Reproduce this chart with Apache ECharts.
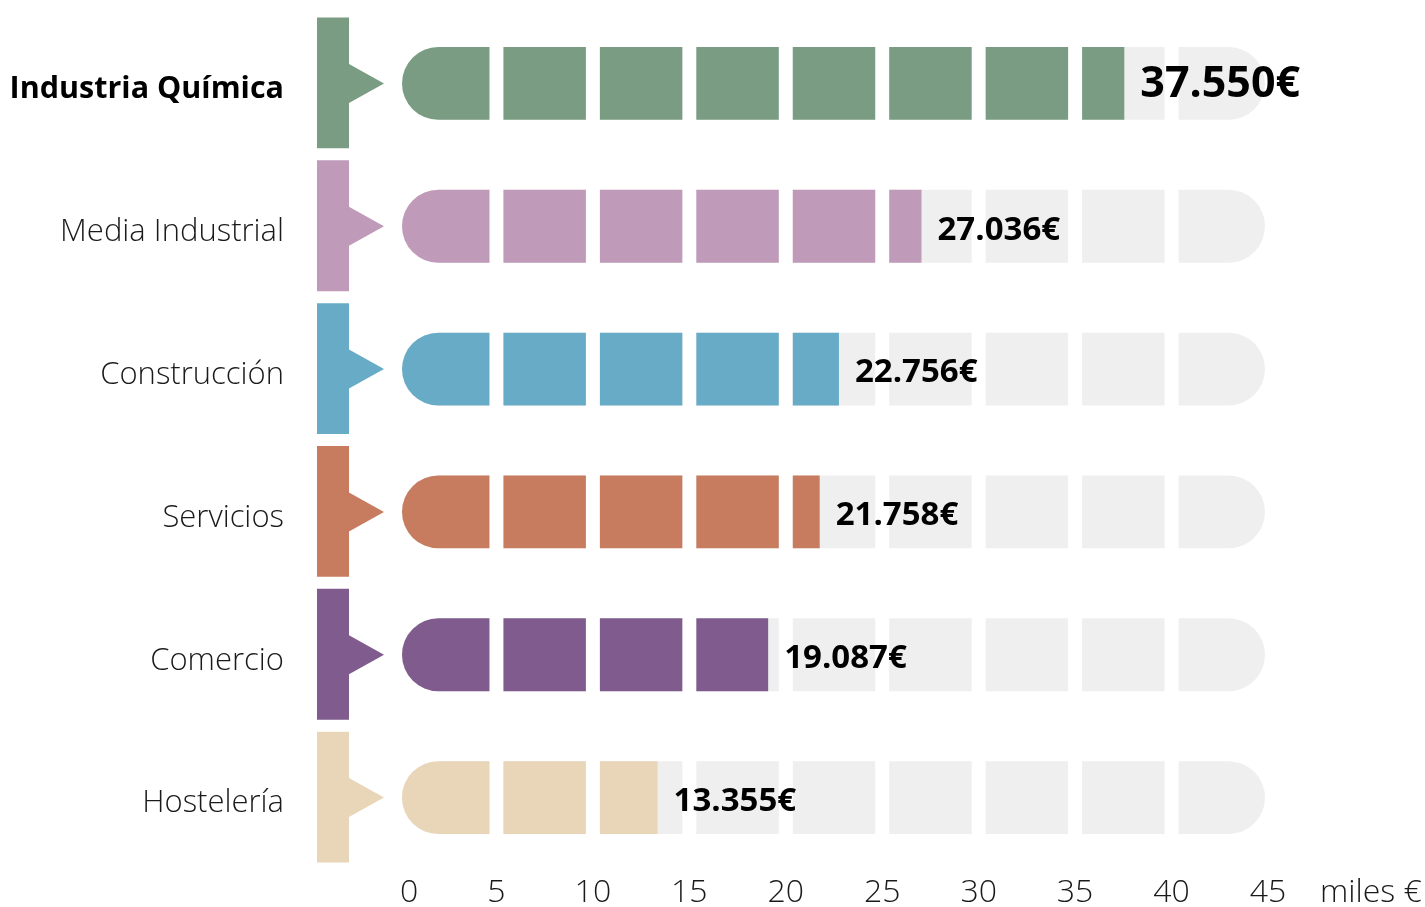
<!DOCTYPE html>
<html>
<head>
<meta charset="utf-8">
<script src="https://cdn.jsdelivr.net/npm/echarts@6/dist/echarts.min.js"></script>
<style>
html,body{margin:0;padding:0;background:#fff;}
#chart{width:1425px;height:907px;}
</style>
</head>
<body>
<div id="chart"></div>
<script>
const categories = ['Industria Química', 'Media Industrial', 'Construcción', 'Servicios', 'Comercio', 'Hostelería'];
const values = [37.550, 27.036, 22.756, 21.758, 19.087, 13.355]; // miles €
const colors = ['#7a9c82', '#bf9bb9', '#68abc7', '#c87c5f', '#805c8e', '#e9d6b8'];
const tickValues = [0, 5, 10, 15, 20, 25, 30, 35, 40, 45];
const axisUnit = 'miles €';

const FONT = '"Open Sans", "Noto Sans", sans-serif';
const TRACK = '#efefef';
const STEP = 5;
const AXIS_MAX = 45;

function fmt(v) {
  return v.toFixed(3) + '€';
}

const chart = echarts.init(document.getElementById('chart'), null, {renderer: 'canvas'});

function renderItem(params, api) {
  const v = api.value(0);
  const cat = api.value(1);
  const i = params.dataIndex;
  const color = colors[i];
  const p0 = api.coord([0, cat]);
  const cy = p0[1];
  const band = api.size([0, 1])[1];
  const barH = band * 0.51;
  const halfH = barH / 2;
  const top = cy - halfH;
  const children = [];

  // left marker (rect + arrow)
  const mx0 = p0[0] - 83, mx1 = p0[0] - 51, tip = p0[0] - 16;
  const mTop = cy - band / 2 + 5.5, mBot = cy + band / 2 - 6.5;
  children.push({
    type: 'polygon',
    shape: {points: [[mx0, mTop], [mx1, mTop], [mx1, cy - 19.5], [tip, cy], [mx1, cy + 19.5], [mx1, mBot], [mx0, mBot]]},
    style: {fill: color}
  });

  const vx = api.coord([v, cat])[0];
  const nSeg = AXIS_MAX / STEP;
  for (let k = 0; k < nSeg; k++) {
    let x1 = api.coord([k * STEP, cat])[0] + (k === 0 ? 2 : 7);
    let x2 = api.coord([(k + 1) * STEP, cat])[0] - (k === nSeg - 1 ? 3 : 7);
    let r = [0, 0, 0, 0];
    if (k === 0) r = [halfH, 0, 0, halfH];
    if (k === nSeg - 1) r = [0, halfH, halfH, 0];
    children.push({
      type: 'rect',
      shape: {x: x1, y: top, width: x2 - x1, height: barH, r: r},
      style: {fill: TRACK}
    });
    if (vx > x1) {
      const xe = Math.min(vx, x2);
      let rr = r.slice();
      if (xe < x2) { rr[1] = 0; rr[2] = 0; }
      children.push({
        type: 'rect',
        shape: {x: x1, y: top, width: xe - x1, height: barH, r: rr},
        style: {fill: color}
      });
    }
  }

  children.push({
    type: 'text',
    style: {
      x: vx + 16,
      y: cy + (i === 0 ? 1 : 4),
      text: fmt(v),
      fill: '#000',
      font: 'bold ' + (i === 0 ? 43 : 33) + 'px ' + FONT,
      verticalAlign: 'middle',
      align: 'left'
    },
    z2: 10
  });

  return {type: 'group', children: children};
}

const option = {
  backgroundColor: '#fff',
  animation: false,
  grid: {left: 400, right: 157, top: 12, bottom: 38, containLabel: false, outerBoundsMode: 'none'},
  xAxis: {
    type: 'value',
    min: 0,
    max: AXIS_MAX,
    interval: STEP,
    axisLine: {show: false},
    axisTick: {show: false},
    splitLine: {show: false},
    axisLabel: {
      margin: 8,
      fontSize: 32,
      fontFamily: FONT,
      fontWeight: 300,
      color: '#1a1a1a',
      alignMinLabel: 'left',
      formatter: function (val) { return tickValues.indexOf(val) >= 0 ? String(val) : ''; }
    },
    name: axisUnit,
    nameLocation: 'end',
    nameGap: 52,
    nameTextStyle: {
      fontSize: 32,
      fontFamily: FONT,
      fontWeight: 300,
      color: '#1a1a1a',
      verticalAlign: 'top',
      padding: [8, 0, 0, 0]
    }
  },
  yAxis: {
    type: 'category',
    inverse: true,
    data: categories,
    axisLine: {show: false},
    axisTick: {show: false},
    splitLine: {show: false},
    axisLabel: {
      margin: 116,
      formatter: function (val, idx) {
        return idx === 0 ? '{b|' + val + '}' : '{n|' + val + '}';
      },
      rich: {
        b: {fontSize: 30.5, fontWeight: 'bold', fontFamily: FONT, color: '#000', padding: [12, 0, 0, 0]},
        n: {fontSize: 31, fontWeight: 300, fontFamily: FONT, color: '#1a1a1a', padding: [12, 0, 0, 0]}
      }
    }
  },
  series: [{
    type: 'custom',
    renderItem: renderItem,
    clip: false,
    encode: {x: 0, y: 1},
    data: values.map(function (v, i) { return [v, i]; })
  }]
};

chart.setOption(option);
</script>
</body>
</html>
